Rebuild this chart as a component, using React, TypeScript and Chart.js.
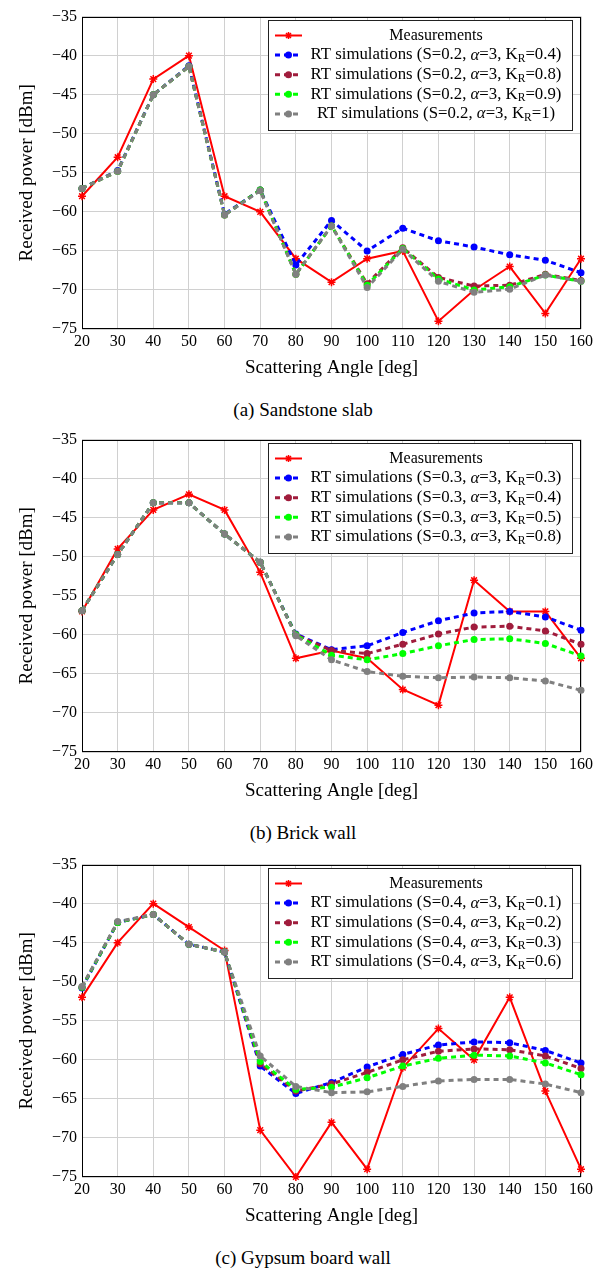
import React, { useEffect, useRef } from 'react';
import { Chart, registerables } from 'chart.js';

Chart.register(...registerables);

// ---------- data ----------
const angles = [20, 30, 40, 50, 60, 70, 80, 90, 100, 110, 120, 130, 140, 150, 160];
const yTicks = [-75, -70, -65, -60, -55, -50, -45, -40, -35];

// (a) Sandstone slab, S = 0.2
const sandS = '0.2';
const sandKR = ['0.4', '0.8', '0.9', '1'];
const sandMeas = [-58, -53, -43, -40, -58, -60, -66, -69, -66, -65, -74, -70, -67, -73, -66];
const sandK04 = [-57, -54.7, -45, -41.3, -60.3, -57.2, -66.8, -61.1, -65, -62.1, -63.7, -64.5, -65.5, -66.2, -67.8];
const sandK08 = [-57, -54.8, -45, -41.4, -60.4, -57.2, -68, -61.8, -69.2, -64.6, -68.4, -69.5, -69.4, -68, -68.8];
const sandK09 = [-57, -54.8, -45, -41.4, -60.4, -57.2, -68, -61.8, -69.4, -64.7, -68.6, -70, -69.6, -68.1, -68.9];
const sandK1 = [-57, -54.8, -45, -41.4, -60.4, -57.3, -68, -61.8, -69.7, -64.8, -68.9, -70.3, -69.9, -68.1, -68.9];

// (b) Brick wall, S = 0.3
const brickS = '0.3';
const brickKR = ['0.3', '0.4', '0.5', '0.8'];
const brickMeas = [-57, -49, -44, -42, -44, -52, -63, -62, -63, -67, -69, -53, -57, -57, -63];
const brickK03 = [-56.9, -49.7, -43.1, -43.1, -47.1, -50.7, -59.9, -61.9, -61.4, -59.7, -58.2, -57.2, -57, -57.7, -59.4];
const brickK04 = [-56.9, -49.7, -43.1, -43.1, -47.1, -50.7, -60, -62, -62.4, -61.2, -59.9, -59, -58.9, -59.5, -61.2];
const brickK05 = [-56.9, -49.7, -43.1, -43.1, -47.1, -50.7, -60, -62.6, -63.2, -62.4, -61.4, -60.6, -60.5, -61.1, -62.7];
const brickK08 = [-56.9, -49.7, -43.1, -43.1, -47.1, -50.7, -60.1, -63.2, -64.7, -65.3, -65.5, -65.4, -65.5, -65.9, -67.1];

// (c) Gypsum board wall, S = 0.4
const gypS = '0.4';
const gypKR = ['0.1', '0.2', '0.3', '0.6'];
const gypMeas = [-52, -45, -40, -43, -46, -69, -75, -68, -74, -61, -56, -60, -52, -64, -74];
const gypK01 = [-50.8, -42.4, -41.4, -45.2, -46.2, -60.8, -64.3, -62.9, -60.9, -59.3, -58.1, -57.7, -57.8, -58.8, -60.4];
const gypK02 = [-50.7, -42.4, -41.4, -45.2, -46.2, -60.5, -64, -63.1, -61.6, -60, -58.9, -58.6, -58.7, -59.5, -61.1];
const gypK03 = [-50.7, -42.4, -41.4, -45.2, -46.2, -60.2, -63.8, -63.5, -62.3, -60.8, -59.8, -59.4, -59.5, -60.4, -61.9];
const gypK06 = [-50.6, -42.3, -41.4, -45.2, -46.2, -59.5, -63.4, -64.2, -64.1, -63.4, -62.7, -62.5, -62.5, -63.1, -64.2];

const captions = ['(a) Sandstone slab', '(b) Brick wall', '(c) Gypsum board wall'];
const xTitle = 'Scattering Angle [deg]';
const yTitle = 'Received power [dBm]';
const measLabel = 'Measurements';

// ---------- style ----------
const FONT = '"Liberation Serif", "Times New Roman", serif';
const RED = '#ff0000';
const SIM_COLORS = ['#0000ff', '#a01c3c', '#00ff00', '#808080'];
const PLOT_H = 315;
const PAD_TOP = 12;
const X_AXIS_H = 60;
const CANVAS_H = PAD_TOP + PLOT_H + X_AXIS_H;
const PLOT_TOPS = [14, 437, 862];

type Seg = { t: string; it?: boolean; sub?: boolean };

function simSegs(s: string, k: string): Seg[] {
  return [
    { t: `RT simulations (S=${s}, ` },
    { t: '\u03b1', it: true },
    { t: '=3, K' },
    { t: 'R', sub: true },
    { t: `=${k})` },
  ];
}

const framePlugin = {
  id: 'frame',
  beforeDatasetsDraw(chart: any) {
    const { ctx, chartArea: a } = chart;
    ctx.save();
    ctx.strokeStyle = '#000';
    ctx.lineWidth = 1;
    ctx.strokeRect(Math.round(a.left) + 0.5, Math.round(a.top) + 0.5, Math.round(a.right - a.left) - 1, Math.round(a.bottom - a.top) - 1);
    ctx.restore();
  },
};

function drawStar(ctx: CanvasRenderingContext2D, x: number, y: number, r: number, color: string) {
  ctx.save();
  ctx.strokeStyle = color;
  ctx.lineWidth = 1.5;
  ctx.beginPath();
  for (let i = 0; i < 4; i++) {
    const ang = (Math.PI / 4) * i;
    ctx.moveTo(x - r * Math.cos(ang), y - r * Math.sin(ang));
    ctx.lineTo(x + r * Math.cos(ang), y + r * Math.sin(ang));
  }
  ctx.stroke();
  ctx.restore();
}

const legendPlugin = {
  id: 'boxLegend',
  afterDraw(chart: any, _args: any, opts: any) {
    const entries = opts && opts.entries;
    if (!entries) return;
    const { ctx, chartArea: a } = chart;
    const right = Math.round(a.right - 9);
    const left = Math.round(a.right - 313);
    const top = Math.round(a.top + 3);
    const h = 110;
    ctx.save();
    ctx.fillStyle = '#ffffff';
    ctx.fillRect(left, top, right - left, h);
    ctx.strokeStyle = '#222';
    ctx.lineWidth = 1;
    ctx.strokeRect(left + 0.5, top + 0.5, right - left, h);
    const colLeft = left + 40;
    const colRight = right - 8;
    entries.forEach((e: any, i: number) => {
      const cy = top + 15.5 + i * 19.6;
      ctx.strokeStyle = e.color;
      ctx.lineWidth = e.dashed ? 3 : 2;
      ctx.setLineDash(e.dashed ? [5, 4] : []);
      ctx.beginPath();
      ctx.moveTo(left + 7, cy);
      ctx.lineTo(left + 34, cy);
      ctx.stroke();
      ctx.setLineDash([]);
      if (e.dashed) {
        ctx.fillStyle = e.color;
        ctx.beginPath();
        ctx.arc(left + 20.5, cy, 3.5, 0, Math.PI * 2);
        ctx.fill();
      } else {
        drawStar(ctx, left + 20.5, cy, 3.5, e.color);
      }
      const segs: Seg[] = e.segs;
      const base = e.dashed ? 16.8 : 16;
      const fontFor = (s: Seg) => `${s.it ? 'italic ' : ''}${s.sub ? 11.5 : base}px ${FONT}`;
      let total = 0;
      segs.forEach((s) => {
        ctx.font = fontFor(s);
        total += ctx.measureText(s.t).width;
      });
      let x = (colLeft + colRight) / 2 - total / 2;
      ctx.fillStyle = '#000';
      ctx.textBaseline = 'middle';
      ctx.textAlign = 'left';
      segs.forEach((s) => {
        ctx.font = fontFor(s);
        ctx.fillText(s.t, x, cy + (s.sub ? 4 : 0));
        x += ctx.measureText(s.t).width;
      });
    });
    ctx.restore();
  },
};

function toPts(vals: number[]) {
  return angles.map((a, i) => ({ x: a, y: vals[i] }));
}

type PanelProps = {
  meas: number[];
  sims: number[][];
  s: string;
  kr: string[];
  plotTop: number;
  caption: string;
};

function Panel({ meas, sims, s, kr, plotTop, caption }: PanelProps) {
  const ref = useRef<HTMLCanvasElement>(null);
  useEffect(() => {
    const datasets: any[] = [
      {
        label: measLabel,
        data: toPts(meas),
        borderColor: RED,
        backgroundColor: RED,
        borderWidth: 2,
        pointStyle: 'star',
        pointRadius: 4,
        pointBorderWidth: 1.5,
        pointBorderColor: RED,
        order: 10,
        clip: 10,
      },
      ...sims.map((vals, i) => ({
        label: `K_R=${kr[i]}`,
        data: toPts(vals),
        borderColor: SIM_COLORS[i],
        backgroundColor: SIM_COLORS[i],
        borderWidth: 3,
        borderDash: [5, 4],
        pointStyle: 'circle',
        pointRadius: 3.5,
        pointBorderWidth: 0,
        order: 5 - i,
        clip: 10,
      })),
    ];
    const entries = [
      { color: RED, dashed: false, segs: [{ t: measLabel }] },
      ...kr.map((k, i) => ({ color: SIM_COLORS[i], dashed: true, segs: simSegs(s, k) })),
    ];
    const chart = new Chart(ref.current as HTMLCanvasElement, {
      type: 'line',
      data: { datasets },
      plugins: [framePlugin, legendPlugin],
      options: {
        animation: false,
        responsive: false,
        devicePixelRatio: 1,
        layout: { padding: { top: PAD_TOP, right: 25, bottom: 0, left: 0 } },
        plugins: {
          legend: { display: false },
          tooltip: { enabled: false },
          boxLegend: { entries },
        } as any,
        scales: {
          x: {
            type: 'linear',
            min: angles[0],
            max: angles[angles.length - 1],
            ticks: {
              stepSize: 10,
              autoSkip: false,
              maxRotation: 0,
              padding: 3,
              color: '#000',
              font: { family: FONT, size: 16 },
            },
            grid: { color: '#d0d0d0', lineWidth: 1, drawTicks: false },
            border: { display: false },
            title: {
              display: true,
              text: xTitle,
              color: '#000',
              font: { family: FONT, size: 19 },
              padding: { top: 0, bottom: 9.6 },
            },
            afterFit: (sc: any) => {
              sc.height = X_AXIS_H;
            },
          },
          y: {
            type: 'linear',
            min: yTicks[0],
            max: yTicks[yTicks.length - 1],
            afterBuildTicks: (sc: any) => {
              sc.ticks = yTicks.map((v) => ({ value: v }));
            },
            ticks: {
              padding: 5,
              color: '#000',
              font: { family: FONT, size: 16 },
              callback: (v: any) => String(v).replace('-', '\u2212'),
            },
            grid: { color: '#d0d0d0', lineWidth: 1, drawTicks: false },
            border: { display: false },
            title: {
              display: true,
              text: yTitle,
              color: '#000',
              font: { family: FONT, size: 19 },
              padding: { top: 16, bottom: 0 },
            },
            afterFit: (sc: any) => {
              sc.width = 82;
            },
          },
        },
      } as any,
    });
    return () => chart.destroy();
  }, []);
  return (
    <>
      <canvas
        ref={ref}
        width={606}
        height={CANVAS_H}
        style={{ position: 'absolute', left: 0, top: plotTop - PAD_TOP, width: 606, height: CANVAS_H }}
      />
      <div
        style={{
          position: 'absolute',
          left: 0,
          width: 606,
          top: plotTop + PLOT_H + 81 - 12,
          height: 24,
          lineHeight: '24px',
          textAlign: 'center',
          fontFamily: FONT,
          fontSize: 19,
          color: '#000',
        }}
      >
        {caption}
      </div>
    </>
  );
}

export default function App() {
  return (
    <div style={{ position: 'absolute', left: 0, top: 0, width: 606, height: 1270, background: '#fff' }}>
      <Panel meas={sandMeas} sims={[sandK04, sandK08, sandK09, sandK1]} s={sandS} kr={sandKR} plotTop={PLOT_TOPS[0]} caption={captions[0]} />
      <Panel meas={brickMeas} sims={[brickK03, brickK04, brickK05, brickK08]} s={brickS} kr={brickKR} plotTop={PLOT_TOPS[1]} caption={captions[1]} />
      <Panel meas={gypMeas} sims={[gypK01, gypK02, gypK03, gypK06]} s={gypS} kr={gypKR} plotTop={PLOT_TOPS[2]} caption={captions[2]} />
    </div>
  );
}
